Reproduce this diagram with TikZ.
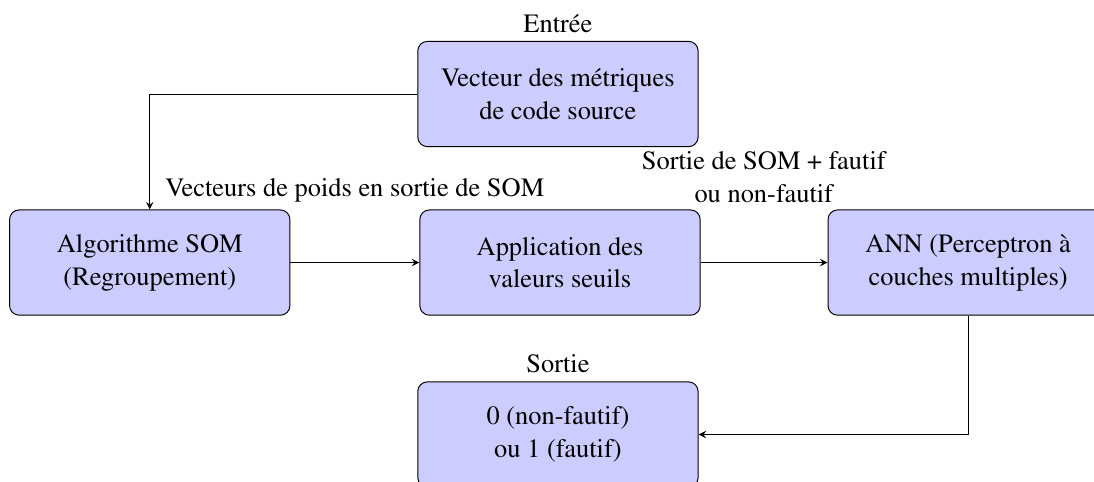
\documentclass[tikz,border=0pt]{standalone}
\usepackage[T1]{fontenc}
\usepackage{times}
\usetikzlibrary{arrows}
\tikzset{bloc/.style={draw, rounded corners, fill=blue!20, align=center, minimum width=4.1cm, minimum height=1.54cm},
         fleche/.style={-stealth}}
\begin{document}
\begin{tikzpicture}[every node/.style={font=\rmfamily\fontsize{11pt}{13.6pt}\selectfont}]
        \useasboundingbox (0,0) rectangle (16,-7.035);
        \node[bloc] (vecteur) at (8.16,-1.375) {Vecteur des métriques\\de code source};
        \node[above] (entree) at (vecteur.north) {Entrée};
        \node[bloc] (som) at (2.19,-3.84) {Algorithme SOM\\(Regroupement)};
        \node[bloc] (seuils) at (8.19,-3.84) {Application des\\valeurs seuils};
        \node[bloc] (ann) at (14.16,-3.84) {ANN (Perceptron à\\couches multiples)};
        \node[bloc] (sortie) at (8.16,-6.355) {0 (non-fautif)\\ou 1 (fautif)};
        \node[above] (sortietxt) at (sortie.north) {Sortie};
        \node[anchor=base] (poids) at (5.19,-2.88) {Vecteurs de poids en sortie de SOM};
        \node[anchor=south, align=center] (fautif) at (11.17,-3.086) {Sortie de SOM + fautif\\ou non-fautif};
        % connecteurs
        \draw[fleche] (vecteur.west) -| (som.north);
        \draw[fleche] (som.east) -- (seuils.west);\draw[fleche] (seuils.east) -- (ann.west);
        \draw[fleche] (ann.south) |- (sortie.east);
\end{tikzpicture}
\end{document}
